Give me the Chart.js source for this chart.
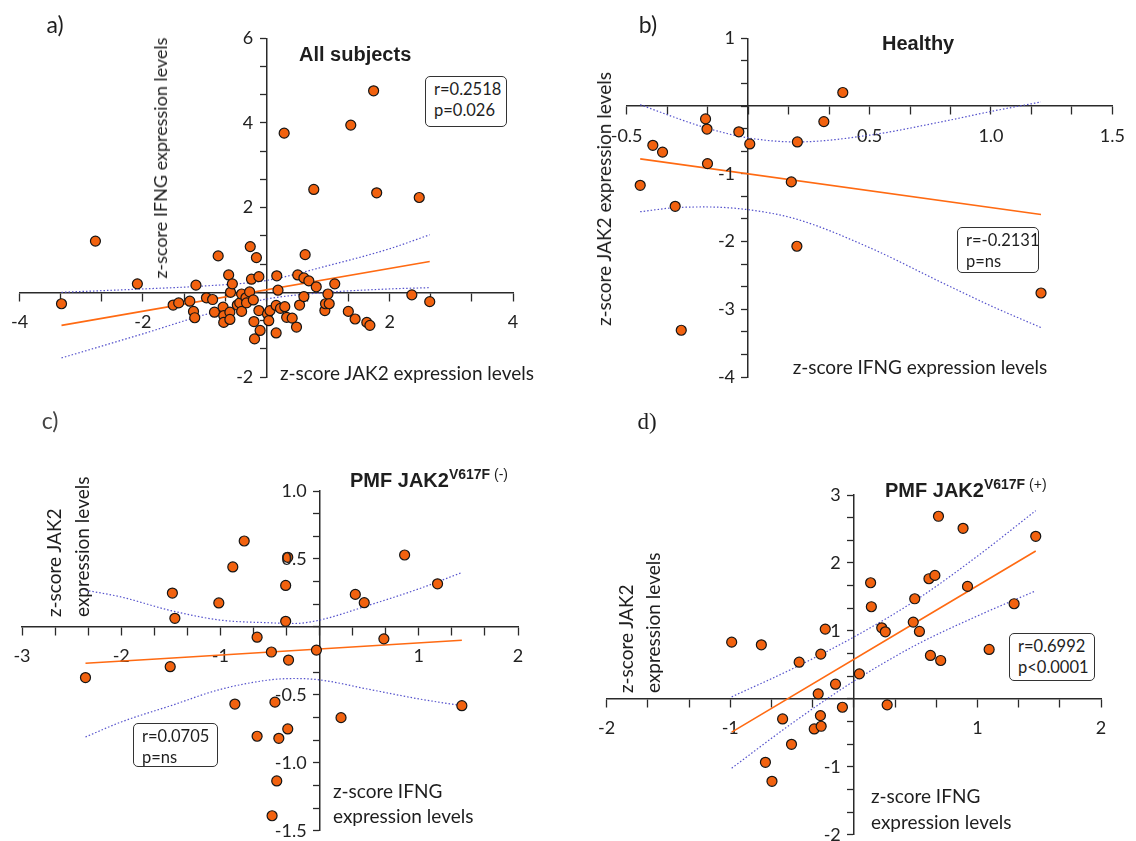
<!DOCTYPE html>
<html>
<head>
<meta charset="utf-8">
<script src="https://cdn.jsdelivr.net/npm/chart.js@4.4.0/dist/chart.umd.min.js"></script>
<style>
  body { margin: 0; background: #fff; }
  #page { position: relative; width: 1136px; height: 841px; overflow: hidden; font-family: Lato, "Open Sans", sans-serif; color: #1e1e1e; }
  canvas { position: absolute; }
  .txt { position: absolute; white-space: nowrap; line-height: 22px; }
  .ttl { font-family: "Liberation Sans", Arial, sans-serif; font-weight: bold; font-size: 20px; }
  .ttl sup { font-size: 14px; }
  .stat { position: absolute; border: 1.5px solid #333; border-radius: 5px; background: #fff; font-size: 16.5px; line-height: 21px; padding: 2px 0 0 8px; box-sizing: border-box; }
</style>
</head>
<body>
<div id="page"></div>
<script>
// ---- a) All subjects ----
const aX = [-3.32, -2.77, -2.09, -1.51, -1.42, -1.24, -1.18, -1.16, -1.14, -0.97, -0.87, -0.84, -0.78, -0.70, -0.69, -0.69, -0.61, -0.59, -0.59, -0.58, -0.55, -0.47, -0.43, -0.40, -0.40, -0.33, -0.32, -0.27, -0.26, -0.24, -0.21, -0.20, -0.19, -0.16, -0.12, -0.12, -0.10, 0.02, 0.04, 0.06, 0.16, 0.16, 0.17, 0.19, 0.23, 0.29, 0.30, 0.33, 0.42, 0.49, 0.51, 0.54, 0.61, 0.61, 0.63, 0.69, 0.77, 0.81, 0.95, 0.96, 1.00, 1.02, 1.11, 1.33, 1.37, 1.44, 1.63, 1.68, 1.74, 1.79, 2.36, 2.48, 2.65];
const aY = [-0.27, 1.21, 0.20, -0.30, -0.25, -0.21, -0.45, -0.60, 0.17, -0.13, -0.17, -0.47, 0.86, -0.35, -0.55, -0.71, 0.41, -0.47, -0.64, 0.00, 0.20, -0.30, -0.25, -0.04, -0.45, -0.13, -0.25, 0.01, 1.08, 0.31, -0.18, -0.69, -1.10, 0.82, 0.37, -0.43, -0.90, -0.51, -0.67, -0.43, -0.96, -0.31, 0.39, 0.05, -0.38, 3.76, -0.34, -0.59, -0.61, -0.82, 0.41, -0.30, 0.34, -0.10, 0.89, 0.27, 2.43, 0.13, -0.43, -0.27, -0.04, -0.27, 0.20, -0.45, 3.95, -0.63, -0.71, -0.78, 4.76, 2.35, -0.06, 2.24, -0.22];
const aFitX = [-3.32, 2.65];
const aFitY = [-0.78, 0.73];
const aBandX = [-3.32, -2, -1, 0, 1, 2, 2.65];
const aUpper = [0.0, 0.08, 0.15, 0.28, 0.63, 1.03, 1.36];
const aLower = [-1.55, -0.98, -0.53, -0.16, 0.0, 0.08, 0.11];
const aXTicks = [-4, -2, 2, 4];
const aYTicks = [-2, 2, 4, 6];

// ---- b) Healthy ----
const bX = [-0.444, -0.392, -0.352, -0.300, -0.275, -0.175, -0.169, -0.167, -0.038, 0.007, 0.178, 0.203, 0.201, 0.312, 0.390, 1.206];
const bY = [-1.17, -0.58, -0.68, -1.48, -3.31, -0.19, -0.34, -0.85, -0.38, -0.56, -1.12, -0.53, -2.07, -0.23, 0.20, -2.76];
const bFitX = [-0.444, 1.206];
const bFitY = [-0.78, -1.60];
const bBandX = [-0.444, -0.3, -0.175, 0, 0.2, 0.5, 0.8, 1.0, 1.206];
const bUpper = [0.02, -0.17, -0.32, -0.47, -0.53, -0.43, -0.23, -0.08, 0.06];
const bLower = [-1.56, -1.50, -1.49, -1.53, -1.67, -2.09, -2.61, -2.95, -3.27];
const bXTicks = [-0.5, 0.5, 1.0, 1.5];
const bYTicks = [-4, -3, -2, -1, 1];

// ---- c) PMF JAK2 V617F (-) ----
const cX = [-2.36, -1.506, -1.484, -1.459, -1.016, -0.875, -0.854, -0.760, -0.630, -0.630, -0.486, -0.479, -0.450, -0.432, -0.411, -0.342, -0.342, -0.321, -0.321, -0.313, -0.032, 0.216, 0.360, 0.450, 0.648, 0.857, 1.189, 1.434];
const cY = [-0.373, -0.293, 0.249, 0.063, 0.176, 0.441, -0.568, 0.632, -0.076, -0.805, -0.185, -1.39, -0.554, -1.134, -0.820, 0.305, 0.041, 0.512, -0.751, -0.244, -0.171, -0.668, 0.239, 0.178, -0.088, 0.529, 0.317, -0.580];
const cFitX = [-2.36, 1.434];
const cFitY = [-0.268, -0.098];
const cBandX = [-2.36, -2, -1.5, -1, -0.5, -0.25, 0, 0.5, 1, 1.434];
const cUpper = [0.27, 0.22, 0.12, 0.05, 0.03, 0.025, 0.05, 0.16, 0.28, 0.40];
const cLower = [-0.81, -0.70, -0.58, -0.46, -0.39, -0.38, -0.39, -0.46, -0.53, -0.58];
const cXTicks = [-3, -2, -1, 1, 2];
const cYTicks = [-1.5, -1.0, -0.5, 0.5, 1.0];

// ---- d) PMF JAK2 V617F (+) ----
const dX = [-0.988, -0.748, -0.715, -0.662, -0.576, -0.504, -0.442, -0.320, -0.288, -0.270, -0.267, -0.264, -0.231, -0.148, -0.092, 0.045, 0.136, 0.142, 0.226, 0.255, 0.270, 0.481, 0.493, 0.531, 0.608, 0.620, 0.656, 0.685, 0.703, 0.884, 0.920, 1.095, 1.297, 1.472];
const dY = [0.835, 0.796, -0.933, -1.213, -0.295, -0.668, 0.540, -0.442, 0.074, -0.246, 0.658, -0.403, 1.027, 0.216, -0.123, 0.368, 1.709, 1.356, 1.046, 0.987, -0.088, 1.130, 1.473, 0.992, 1.768, 0.639, 1.817, 2.687, 0.565, 2.510, 1.655, 0.727, 1.400, 2.392];
const dFitX = [-0.988, 1.472];
const dFitY = [-0.49, 2.176];
const dBandX = [-0.988, -0.5, 0, 0.5, 1.0, 1.472];
const dUpper = [0.03, 0.44, 0.91, 1.45, 2.10, 2.77];
const dLower = [-1.02, -0.36, 0.26, 0.79, 1.22, 1.59];
const dXTicks = [-2, -1, 1, 2];
const dYTicks = [-2, -1, 1, 2, 3];

const axisColor = '#2a2a2a';
const dotColor = '#f2620f';
const fitColor = '#ff6a12';
const bandColor = '#5552cc';
const tickFont = '18px Lato';
const page = document.getElementById('page');

function pts(xs, ys) {
  return xs.map((x, i) => ({ x, y: ys[i] }));
}

// minor ticks: three steps per labelled step
function tickValues(min, max, step) {
  const n = Math.round((max - min) / step) * 3;
  const out = [];
  for (let i = 0; i <= n; i++) out.push(min + (max - min) * i / n);
  return out;
}

// y labels drawn by hand: Chart.js puts them flush on a crossing axis
const yLabelPlugin = {
  id: 'yLabels',
  afterDraw(chart, args, opts) {
    const { ctx, scales: { x, y } } = chart;
    const x0 = x.getPixelForValue(0);
    ctx.save();
    ctx.font = tickFont;
    ctx.fillStyle = '#222';
    ctx.textAlign = 'right';
    ctx.textBaseline = 'middle';
    opts.values.forEach(v => {
      ctx.fillText(v.toFixed(opts.digits), x0 - 13, y.getPixelForValue(v));
    });
    ctx.restore();
  },
};

function axis(dir, min, max, step, labelled, digits) {
  return {
    type: 'linear',
    min, max,
    position: dir === 'x' ? { y: 0 } : { x: 0 },
    afterBuildTicks: (scale) => {
      scale.ticks = tickValues(min, max, step).map(v => ({ value: v }));
    },
    grid: {
      drawOnChartArea: false,
      drawTicks: true,
      tickLength: dir === 'x' ? 8 : 6,
      tickColor: axisColor,
      tickWidth: 1.3,
      color: axisColor,
    },
    border: { display: true, color: axisColor, width: 1.5 },
    ticks: {
      display: dir === 'x',
      autoSkip: false,
      maxRotation: 0,
      padding: 11,
      color: '#222',
      font: { family: 'Lato', size: 18 },
      callback: (v) => {
        const hit = labelled.find(t => Math.abs(t - v) < 1e-6);
        return hit === undefined ? '' : hit.toFixed(digits);
      },
    },
  };
}

function makePanel(p) {
  const canvas = document.createElement('canvas');
  canvas.width = p.box.w;
  canvas.height = p.box.h;
  canvas.style.left = p.box.x + 'px';
  canvas.style.top = p.box.y + 'px';
  page.appendChild(canvas);

  const lineSet = (data, color, width, dash) => ({
    data,
    showLine: true,
    borderColor: color,
    borderWidth: width,
    borderDash: dash,
    pointRadius: 0,
    cubicInterpolationMode: 'monotone',
    fill: false,
    clip: false,
  });

  new Chart(canvas, {
    type: 'scatter',
    data: {
      datasets: [
        {
          data: pts(p.xs, p.ys),
          backgroundColor: dotColor,
          borderColor: '#151515',
          borderWidth: 1.2,
          pointRadius: 5,
          clip: false,
        },
        lineSet(pts(p.fitX, p.fitY), fitColor, 1.6, []),
        lineSet(pts(p.bandX, p.upper), bandColor, 1.2, [1.5, 2]),
        lineSet(pts(p.bandX, p.lower), bandColor, 1.2, [1.5, 2]),
      ],
    },
    options: {
      responsive: false,
      animation: false,
      events: [],
      layout: {
        padding: {
          left: p.area.l - p.box.x,
          right: p.box.x + p.box.w - p.area.r,
          top: p.area.t - p.box.y,
          bottom: p.box.y + p.box.h - p.area.b,
        },
      },
      plugins: {
        legend: { display: false },
        tooltip: { enabled: false },
        yLabels: { values: p.yTicks, digits: p.yDigits },
      },
      scales: {
        x: axis('x', p.xr[0], p.xr[1], p.xStep, p.xTicks, p.xDigits),
        y: axis('y', p.yr[0], p.yr[1], p.yStep, p.yTicks, p.yDigits),
      },
    },
    plugins: [yLabelPlugin],
  });
}

function text(html, cls, style) {
  const d = document.createElement('div');
  d.className = cls;
  d.innerHTML = html;
  Object.assign(d.style, style);
  page.appendChild(d);
  return d;
}

// centred text, optionally rotated
function centred(html, cx, cy, size, rot, extra) {
  return text(html, 'txt', Object.assign({
    left: cx + 'px', top: cy + 'px', fontSize: size + 'px',
    transform: 'translate(-50%,-50%)' + (rot ? ' rotate(-90deg)' : ''),
  }, extra || {}));
}

// rotated text that starts at (cx, bottom) and runs upward
function upward(html, cx, bottom, size) {
  return text(html, 'txt', {
    left: cx + 'px', top: (bottom - 11) + 'px', fontSize: size + 'px',
    transformOrigin: '0 50%', transform: 'rotate(-90deg)',
  });
}

function leftMid(html, x, cy, size) {
  return text(html, 'txt', { left: x + 'px', top: (cy - 11) + 'px', fontSize: size + 'px' });
}

function stat(lines, x, y, w, h) {
  text(lines.join('<br>'), 'stat', { left: x + 'px', top: y + 'px', width: w + 'px', height: h + 'px' });
}

makePanel({
  box: { x: 0, y: 0, w: 568, h: 400 },
  area: { l: 17, r: 513, t: 38.3, b: 377 },
  xs: aX, ys: aY, fitX: aFitX, fitY: aFitY, bandX: aBandX, upper: aUpper, lower: aLower,
  xr: [-4, 4], xStep: 2, xTicks: aXTicks, xDigits: 0,
  yr: [-2, 6], yStep: 2, yTicks: aYTicks, yDigits: 0,
});
makePanel({
  box: { x: 568, y: 0, w: 568, h: 400 },
  area: { l: 626.6, r: 1121, t: 38.3, b: 377 },
  xs: bX, ys: bY, fitX: bFitX, fitY: bFitY, bandX: bBandX, upper: bUpper, lower: bLower,
  xr: [-0.5, 1.5], xStep: 0.5, xTicks: bXTicks, xDigits: 1,
  yr: [-4, 1], yStep: 1, yTicks: bYTicks, yDigits: 0,
});
makePanel({
  box: { x: 0, y: 400, w: 568, h: 441 },
  area: { l: 22, r: 518, t: 491, b: 830.7 },
  xs: cX, ys: cY, fitX: cFitX, fitY: cFitY, bandX: cBandX, upper: cUpper, lower: cLower,
  xr: [-3, 2], xStep: 1, xTicks: cXTicks, xDigits: 0,
  yr: [-1.5, 1.0], yStep: 0.5, yTicks: cYTicks, yDigits: 1,
});
makePanel({
  box: { x: 568, y: 400, w: 568, h: 441 },
  area: { l: 606.6, r: 1101, t: 495, b: 835 },
  xs: dX, ys: dY, fitX: dFitX, fitY: dFitY, bandX: dBandX, upper: dUpper, lower: dLower,
  xr: [-2, 2], xStep: 1, xTicks: dXTicks, xDigits: 0,
  yr: [-2, 3], yStep: 1, yTicks: dYTicks, yDigits: 0,
});

// panel letters
centred('a)', 55, 24, 23);
centred('b)', 648, 24, 23);
centred('c)', 50, 420, 23, false, { color: '#444' });
centred('d)', 647, 422, 23, false, { fontFamily: '"Liberation Serif", serif' });

// panel titles
text('All subjects', 'txt ttl', { left: '299px', top: '43px' });
text('Healthy', 'txt ttl', { left: '882px', top: '32px' });
text('PMF JAK2<sup>V617F <span style="font-weight:normal">(-)</span></sup>', 'txt ttl', { left: '350px', top: '463px' });
text('PMF JAK2<sup>V617F <span style="font-weight:normal">(+)</span></sup>', 'txt ttl', { left: '885px', top: '473px' });

// axis titles
centred('z-score IFNG expression levels', 160, 158, 18, true);
centred('z-score JAK2 expression levels', 407, 373, 19);
centred('z-score JAK2 expression levels', 604, 199, 19, true);
centred('z-score IFNG expression levels', 920, 367, 19);

upward('z-score JAK2', 54, 617, 19);
upward('expression levels', 82, 617, 19);
leftMid('z-score IFNG', 333, 791, 19);
leftMid('expression levels', 333, 816, 19);

upward('z-score JAK2', 626, 693, 19);
upward('expression levels', 653, 693, 19);
leftMid('z-score IFNG', 871, 796, 19);
leftMid('expression levels', 871, 822, 19);

// correlation boxes
stat(['r=0.2518', 'p=0.026'], 425, 76, 82, 51);
stat(['r=-0.2131', 'p=ns'], 957, 227, 82, 46);
stat(['r=0.0705', 'p=ns'], 133, 723, 85, 44);
stat(['r=0.6992', 'p&lt;0.0001'], 1009, 633, 86, 48);
</script>
</body>
</html>
